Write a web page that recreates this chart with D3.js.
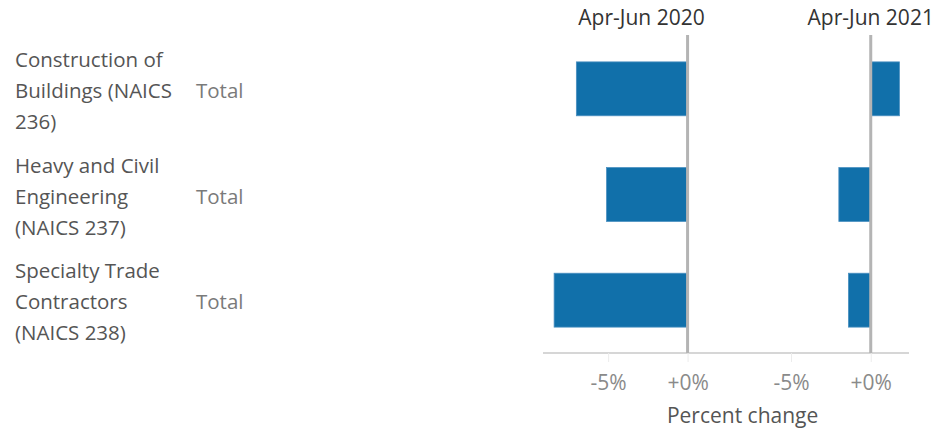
<!DOCTYPE html>
<html>
<head>
<meta charset="utf-8">
<script src="https://cdn.jsdelivr.net/npm/d3@7"></script>
<style>
  body { margin: 0; background: #fff; }
  svg { font-family: "Open Sans", sans-serif; }
</style>
</head>
<body>
<div class="container"></div>
<script>
const WIDTH = 938;
const HEIGHT = 429;

// data
var categories = [
    ['Construction of', 'Buildings (NAICS', '236)'],
    ['Heavy and Civil', 'Engineering', '(NAICS 237)'],
    ['Specialty Trade', 'Contractors', '(NAICS 238)']
];
var subLabel = 'Total';
var periods = ['Apr-Jun 2020', 'Apr-Jun 2021'];
var values2020 = [-7.0, -5.1, -8.4];
var values2021 = [1.8, -2.0, -1.4];
var ticks = [-5, 0];
var domain2020 = [-9.1, 3.3];
var domain2021 = [-8.2, 2.4];

var translate = function(x, y) {
    return `translate(${x},${y})`;
};

var fmt = function(d) {
    return (d >= 0 ? '+' : '') + d + '%';
};

var drawPanel = function(svg, y, xScale, values, title, titleX) {
    var g = svg.append('g');

    g.selectAll('rect.bar')
        .data(values)
        .enter().append('rect')
        .classed('bar', true)
        .attr('x', d => xScale(Math.min(0, d)))
        .attr('width', d => Math.abs(xScale(d) - xScale(0)))
        .attr('y', (d, i) => y(i))
        .attr('height', y.bandwidth())
        .attr('fill', '#1170aa')
        .attr('stroke', '#4a8fc0')
        .attr('stroke-width', 0.8);

    // zero line
    g.append('line')
        .attr('x1', xScale(0)).attr('x2', xScale(0))
        .attr('y1', y.range()[0] - 1).attr('y2', y.range()[1])
        .attr('stroke', '#b4b4b4')
        .attr('stroke-width', 3);

    var axis = d3.axisBottom(xScale)
        .tickValues(ticks)
        .tickFormat(fmt)
        .tickSize(9)
        .tickPadding(13);

    var ax = svg.append('g')
        .attr('transform', translate(0, y.range()[1]))
        .call(axis);
    ax.select('.domain').remove();
    ax.selectAll('.tick line').attr('stroke', '#ececec');
    ax.selectAll('.tick text')
        .attr('fill', '#8a8a8a')
        .attr('font-size', 21)
        .attr('font-family', '"Open Sans", sans-serif');

    svg.append('text')
        .attr('x', titleX)
        .attr('y', 18)
        .attr('dy', '0.35em')
        .attr('text-anchor', 'middle')
        .attr('fill', '#333')
        .attr('font-size', 21)
        .text(title);
};

var fillLayout = function() {
    var svg = d3.select('.container').append('svg')
        .attr('width', WIDTH)
        .attr('height', HEIGHT);

    var idx = categories.map((d, i) => i);
    var y = d3.scaleBand()
        .domain(idx)
        .range([36, 353])
        .paddingInner(0.49)
        .paddingOuter(0.245);

    var x1 = d3.scaleLinear().domain(domain2020).range([543, 740]);
    var x2 = d3.scaleLinear().domain(domain2021).range([740, 909]);

    // axis baseline
    svg.append('line')
        .attr('x1', x1.range()[0]).attr('x2', x2.range()[1])
        .attr('y1', 353).attr('y2', 353)
        .attr('stroke', '#d6d6d6')
        .attr('stroke-width', 2);

    drawPanel(svg, y, x1, values2020, periods[0], (x1.range()[0] + x1.range()[1]) / 2);
    drawPanel(svg, y, x2, values2021, periods[1], x2(0));

    // row labels
    var rows = svg.append('g');
    categories.forEach(function(lines, i) {
        var cy = y(i) + y.bandwidth() / 2 + 2;
        var t = rows.append('text')
            .attr('x', 15)
            .attr('fill', '#555')
            .attr('font-size', 20.5);
        lines.forEach(function(line, j) {
            t.append('tspan')
                .attr('x', 15)
                .attr('y', cy + (j - 1) * 31)
                .attr('dy', '0.35em')
                .text(line);
        });
        rows.append('text')
            .attr('x', 196)
            .attr('y', cy)
            .attr('dy', '0.35em')
            .attr('fill', '#7a7a7a')
            .attr('font-size', 20.5)
            .text(subLabel);
    });

    svg.append('text')
        .attr('x', x1(0) + 55)
        .attr('y', 416)
        .attr('dy', '0.35em')
        .attr('text-anchor', 'middle')
        .attr('fill', '#555')
        .attr('font-size', 21)
        .text('Percent change');
};
window.onload = fillLayout;
</script>
</body>
</html>
